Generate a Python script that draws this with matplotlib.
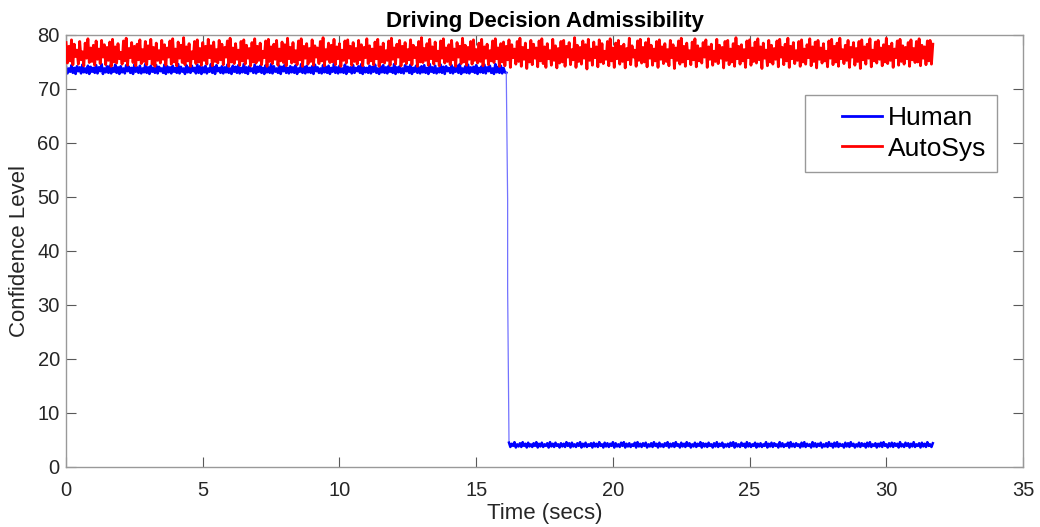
import numpy as np
import matplotlib
matplotlib.use("Agg")
import matplotlib.pyplot as plt
from matplotlib.legend_handler import HandlerLine2D

plt.rcParams['font.family'] = ['Liberation Sans', 'DejaVu Sans']

DT = 0.05  # sample spacing (s)

human_pre = [
    74.1, 72.9, 73.8, 73.2, 74.4, 73.0, 73.9, 72.8, 74.2, 73.3, 74.0, 72.9, 74.5, 73.1, 73.8, 73.0, 74.3, 72.8, 74.1, 73.2,
    73.9, 73.0, 74.4, 72.9, 74.0, 73.3, 74.6, 72.8, 73.8, 73.1, 74.2, 73.0, 74.3, 72.9, 73.9, 73.2, 74.5, 73.0, 74.0, 72.8,
    74.2, 73.1, 73.8, 72.9, 74.4, 73.3, 74.1, 73.0, 73.9, 72.8, 74.5, 73.2, 74.0, 73.0, 74.3, 72.9, 73.8, 73.1, 74.6, 73.0,
    74.0, 72.8, 74.3, 73.2, 73.9, 73.0, 74.4, 72.9, 74.1, 73.3, 73.8, 73.0, 74.5, 72.8, 74.2, 73.1, 74.0, 72.9, 74.3, 73.2,
    73.9, 73.0, 74.6, 72.9, 74.1, 73.2, 73.8, 72.8, 74.4, 73.1, 74.0, 73.0, 74.3, 73.3, 73.9, 72.9, 74.5, 73.0, 74.2, 72.8,
    74.0, 73.1, 74.3, 72.9, 73.8, 73.2, 74.6, 73.0, 74.1, 72.8, 74.4, 73.3, 73.9, 73.0, 74.2, 72.9, 74.0, 73.1, 74.5, 73.0,
    73.8, 72.8, 74.3, 73.2, 74.1, 73.0, 74.4, 72.9, 73.9, 73.1, 74.6, 73.0, 74.0, 72.8, 74.2, 73.3, 73.8, 73.0, 74.5, 72.9,
    74.1, 73.2, 74.3, 73.0, 73.9, 72.8, 74.4, 73.1, 74.0, 73.0, 74.6, 72.9, 74.2, 73.2, 73.8, 73.0, 74.3, 72.8, 74.1, 73.3,
    74.5, 73.0, 73.9, 72.9, 74.2, 73.1, 74.0, 73.0, 74.4, 72.8, 73.8, 73.2, 74.6, 73.0, 74.1, 72.9, 74.3, 73.1, 73.9, 73.0,
    74.2, 72.8, 74.5, 73.3, 74.0, 73.0, 73.8, 72.9, 74.4, 73.1, 74.1, 73.0, 74.3, 72.8, 73.9, 73.2, 74.6, 73.0, 74.0, 72.9,
    74.3, 73.1, 73.8, 73.0, 74.5, 72.8, 74.1, 73.2, 74.0, 72.9, 74.4, 73.0, 73.9, 73.3, 74.2, 73.0, 74.6, 72.8, 74.0, 73.1,
    73.9, 73.0, 74.3, 72.9, 74.1, 73.2, 74.5, 73.0, 73.8, 72.8, 74.2, 73.1, 74.4, 73.0, 74.0, 72.9, 74.3, 73.2, 73.9, 73.0,
    74.6, 72.8, 74.0, 73.1, 74.2, 73.0, 73.8, 72.9, 74.4, 73.3, 74.1, 73.0, 74.5, 72.8, 73.9, 73.2, 74.3, 73.0, 74.0, 72.9,
    74.2, 73.1, 74.4, 73.0, 73.9, 72.8, 74.6, 73.2, 74.0, 73.0, 74.3, 72.9, 73.8, 73.1, 74.5, 73.0, 74.1, 72.8, 74.2, 73.3,
    73.9, 73.0, 74.4, 72.9, 74.0, 73.2, 74.3, 73.0, 74.6, 72.8, 73.8, 73.1, 74.2, 73.0, 74.5, 72.9, 74.0, 73.2, 74.1, 73.0,
    74.4, 72.8, 73.9, 73.1, 74.2, 73.0, 74.5, 72.9, 74.0, 73.3, 74.3, 73.0, 73.8, 72.8, 74.6, 73.1, 74.1, 73.0, 74.3, 72.9,
    73.9, 73.1, 73.0,
]
human_drop_time = 16.15
human_drop = [49.5, 33.0]
human_post_start = 16.2
human_post = [
    4.5, 3.7, 4.3, 3.9, 4.6, 3.6, 4.2, 3.8, 4.4, 3.7, 4.6, 3.9, 4.3, 3.6, 4.5, 3.8, 4.2, 3.7, 4.4, 3.9,
    4.6, 3.6, 4.3, 3.8, 4.5, 3.7, 4.2, 3.9, 4.4, 3.6, 4.6, 3.8, 4.3, 3.7, 4.5, 3.9, 4.2, 3.6, 4.4, 3.8,
    4.3, 3.7, 4.6, 3.9, 4.4, 3.6, 4.5, 3.8, 4.2, 3.7, 4.4, 3.9, 4.6, 3.6, 4.3, 3.8, 4.5, 3.7, 4.2, 3.9,
    4.4, 3.6, 4.5, 3.8, 4.3, 3.7, 4.6, 3.9, 4.2, 3.6, 4.5, 3.8, 4.4, 3.7, 4.3, 3.9, 4.6, 3.6, 4.4, 3.8,
    4.2, 3.7, 4.5, 3.9, 4.6, 3.6, 4.3, 3.8, 4.4, 3.7, 4.2, 3.9, 4.5, 3.6, 4.6, 3.8, 4.3, 3.7, 4.4, 3.9,
    4.5, 3.6, 4.2, 3.8, 4.4, 3.7, 4.6, 3.9, 4.3, 3.6, 4.5, 3.8, 4.2, 3.7, 4.4, 3.9, 4.6, 3.6, 4.3, 3.8,
    4.4, 3.7, 4.6, 3.9, 4.2, 3.6, 4.5, 3.8, 4.3, 3.7, 4.6, 3.9, 4.4, 3.6, 4.2, 3.8, 4.5, 3.7, 4.3, 3.9,
    4.6, 3.6, 4.4, 3.8, 4.3, 3.7, 4.5, 3.9, 4.2, 3.6, 4.4, 3.8, 4.6, 3.7, 4.3, 3.9, 4.5, 3.6, 4.2, 3.8,
    4.3, 3.7, 4.5, 3.9, 4.6, 3.6, 4.4, 3.8, 4.2, 3.7, 4.5, 3.9, 4.3, 3.6, 4.6, 3.8, 4.4, 3.7, 4.2, 3.9,
    4.5, 3.6, 4.3, 3.8, 4.4, 3.7, 4.2, 3.9, 4.6, 3.6, 4.3, 3.8, 4.5, 3.7, 4.4, 3.9, 4.2, 3.6, 4.6, 3.8,
    4.4, 3.7, 4.2, 3.9, 4.5, 3.6, 4.6, 3.8, 4.3, 3.7, 4.4, 3.9, 4.2, 3.6, 4.5, 3.8, 4.6, 3.7, 4.3, 3.9,
    4.2, 3.6, 4.6, 3.8, 4.4, 3.7, 4.3, 3.9, 4.5, 3.6, 4.2, 3.8, 4.4, 3.7, 4.6, 3.9, 4.3, 3.6, 4.5, 3.8,
    4.6, 3.7, 4.3, 3.9, 4.2, 3.6, 4.5, 3.8, 4.4, 3.7, 4.6, 3.9, 4.3, 3.6, 4.2, 3.8, 4.5, 3.7, 4.4, 3.9,
    4.3, 3.6, 4.5, 3.8, 4.6, 3.7, 4.2, 3.9, 4.4, 3.6, 4.3, 3.8, 4.5, 3.7, 4.6, 3.9, 4.2, 3.6, 4.4, 3.8,
    4.5, 3.7, 4.4, 3.9, 4.3, 3.6, 4.6, 3.8, 4.2, 3.7, 4.5, 3.9, 4.4, 3.6, 4.3, 3.8, 4.6, 3.7, 4.2, 3.9,
    4.4, 3.6, 4.5, 3.8, 4.3, 3.7, 4.6, 3.9, 4.2, 3.7, 4.4,
]

autosys = [
    78.6, 74.8, 77.9, 75.2, 79.1, 74.5, 78.3, 76.0, 77.2, 74.6, 78.8, 75.4, 76.9, 74.3, 78.5, 75.7, 79.3, 74.9, 77.6, 75.1,
    78.1, 74.4, 78.9, 75.5, 77.4, 74.7, 79.0, 75.9, 78.2, 74.5, 77.7, 75.3, 78.7, 74.2, 79.2, 75.0, 77.8, 74.8, 78.4, 75.6,
    76.8, 74.6, 78.9, 75.2, 79.4, 74.4, 77.5, 75.8, 78.6, 74.9, 77.9, 74.3, 78.3, 75.4, 79.1, 74.7, 77.3, 75.1, 78.8, 74.5,
    78.0, 75.6, 79.2, 74.6, 77.7, 74.2, 78.5, 75.3, 77.1, 74.8, 79.0, 75.5, 78.2, 74.4, 77.6, 75.9, 78.9, 74.6, 79.3, 75.0,
    77.4, 74.3, 78.7, 75.7, 78.1, 74.9, 79.5, 74.5, 77.8, 75.2, 78.4, 74.2, 76.9, 75.6, 78.8, 74.7, 79.1, 75.0, 77.5, 74.4,
    78.6, 75.3, 77.9, 74.6, 79.2, 75.8, 78.0, 74.3, 78.7, 75.1, 77.3, 74.8, 79.0, 75.4, 78.3, 74.5, 77.7, 75.9, 78.9, 74.2,
    79.4, 75.0, 77.6, 74.7, 78.4, 75.5, 77.2, 74.4, 78.8, 75.2, 79.1, 74.6, 78.1, 75.7, 77.5, 74.3, 78.6, 75.0, 79.3, 74.8,
    77.9, 75.3, 78.5, 74.5, 77.0, 75.8, 78.9, 74.2, 79.2, 75.1, 77.8, 74.7, 78.3, 75.5, 79.0, 74.4, 77.4, 75.2, 78.7, 74.9,
    78.2, 74.3, 79.4, 75.6, 77.7, 74.8, 78.6, 75.0, 77.1, 74.5, 78.9, 75.4, 79.3, 74.2, 77.9, 75.7, 78.4, 74.6, 77.5, 75.1,
    79.1, 74.4, 78.0, 75.9, 77.6, 74.7, 78.8, 75.2, 79.5, 74.3, 77.3, 75.5, 78.5, 74.9, 78.1, 75.0, 79.2, 74.5, 77.8, 75.6,
    78.4, 74.2, 77.2, 75.3, 78.9, 74.8, 79.1, 75.7, 77.9, 74.4, 78.6, 75.1, 77.5, 74.6, 79.0, 75.4, 78.2, 74.3, 77.7, 75.8,
    79.3, 74.7, 78.0, 75.2, 77.4, 74.5, 78.7, 75.6, 79.2, 74.2, 77.8, 75.0, 78.5, 74.8, 77.1, 75.3, 78.9, 74.4, 79.4, 75.5,
    77.6, 74.6, 78.3, 75.9, 79.0, 74.3, 77.9, 75.1, 78.6, 74.7, 77.3, 75.4, 79.1, 74.5, 78.1, 75.8, 77.7, 74.2, 78.8, 75.0,
    79.5, 74.9, 77.5, 75.3, 78.4, 74.4, 79.2, 75.6, 77.8, 74.6, 78.7, 75.2, 77.0, 74.3, 78.9, 75.7, 79.3, 74.8, 77.6, 75.1,
    78.2, 74.5, 79.0, 75.4, 77.4, 74.2, 78.6, 75.9, 77.9, 74.7, 79.4, 75.0, 78.1, 74.4, 77.7, 75.5, 78.8, 74.6, 79.1, 75.3,
    77.3, 74.8, 78.5, 75.1, 79.2, 74.3, 77.8, 75.7, 78.3, 74.5, 77.1, 75.2, 78.9, 74.9, 79.3, 75.6, 77.6, 74.2, 78.4, 75.0,
    78.7, 74.3, 77.9, 75.4, 79.1, 74.0, 78.2, 75.8, 77.4, 74.6, 78.8, 75.1, 79.4, 74.2, 77.7, 75.5, 78.5, 73.8, 77.2, 75.0,
    79.0, 74.5, 78.3, 75.7, 77.6, 74.1, 78.9, 75.2, 79.3, 74.7, 77.8, 74.0, 78.4, 75.6, 77.1, 74.4, 79.2, 75.3, 78.0, 73.9,
    77.5, 74.8, 78.8, 75.0, 79.0, 74.2, 77.9, 75.9, 78.6, 74.5, 77.3, 75.4, 79.5, 74.0, 78.1, 75.1, 77.7, 74.6, 78.9, 75.7,
    78.2, 73.7, 79.2, 75.3, 77.4, 74.4, 78.7, 75.8, 77.8, 74.1, 79.1, 75.0, 78.4, 74.7, 77.0, 75.5, 78.8, 74.3, 79.3, 75.2,
    77.6, 74.0, 78.5, 75.6, 79.0, 74.6, 77.9, 75.1, 78.3, 73.9, 77.5, 75.4, 79.4, 74.5, 78.0, 75.9, 77.2, 74.2, 78.9, 75.3,
    79.2, 74.8, 77.7, 75.0, 78.6, 74.1, 79.3, 75.7, 78.1, 74.4, 77.4, 75.2, 78.8, 74.0, 79.1, 75.5, 77.8, 74.7, 78.4, 75.1,
    77.3, 74.3, 79.0, 75.8, 78.2, 73.8, 77.6, 75.3, 78.9, 74.6, 79.4, 75.0, 77.9, 74.2, 78.5, 75.6, 77.1, 74.5, 78.7, 75.4,
    79.3, 74.1, 78.0, 75.2, 77.5, 74.8, 78.6, 75.9, 79.1, 74.0, 77.8, 75.5, 78.3, 74.4, 77.0, 75.1, 79.2, 74.7, 78.1, 75.7,
    77.7, 73.9, 78.8, 75.3, 79.0, 74.5, 77.4, 75.0, 78.4, 74.2, 79.5, 75.6, 77.9, 74.6, 78.2, 75.2, 77.3, 74.0, 78.9, 75.8,
    79.1, 74.4, 77.6, 75.1, 78.7, 74.8, 79.3, 75.4, 77.8, 73.8, 78.5, 75.7, 77.2, 74.3, 79.0, 75.0, 78.1, 74.6, 77.5, 75.5,
    78.9, 74.1, 79.2, 75.9, 77.7, 74.5, 78.3, 75.2, 79.4, 74.0, 77.9, 75.6, 78.6, 74.7, 77.1, 75.3, 78.8, 74.2, 79.1, 75.0,
    77.4, 74.6, 78.2, 75.8, 79.3, 74.3, 77.8, 75.1, 78.7, 73.9, 79.0, 75.5, 77.6, 74.8, 78.4, 75.2, 77.0, 74.1, 78.9, 75.7,
    79.2, 74.5, 77.9, 75.0, 78.5, 74.2, 79.4, 75.6, 77.3, 74.7, 78.1, 75.3, 79.0, 74.0, 77.7, 75.9, 78.6, 74.4, 77.5, 75.1,
    78.8, 73.8, 79.1, 75.4, 77.8, 74.6, 78.3, 75.7, 79.3, 74.1, 77.2, 75.2, 78.7, 74.8, 79.0, 75.5, 77.6, 74.3, 78.2, 75.0,
    79.4, 74.7, 77.9, 75.3, 78.5, 74.0, 77.4, 75.8, 78.9, 74.4, 79.2, 75.1, 78.0, 74.6, 77.7, 75.6, 78.6, 74.2, 79.1, 75.4,
    77.5, 74.9, 78.8, 75.0, 79.3, 74.3, 78.1, 75.7, 77.8, 74.5, 78.9, 75.2, 79.0, 74.6, 78.3,
]

title = "Driving Decision Admissibility"
xlabel = "Time (secs)"
ylabel = "Confidence Level"
series_names = ["Human", "AutoSys"]
xticks = [0, 5, 10, 15, 20, 25, 30, 35]
yticks = [0, 10, 20, 30, 40, 50, 60, 70, 80]

# time axes
t_pre = np.arange(len(human_pre)) * DT
t_drop = np.full(len(human_drop), human_drop_time)
t_post = human_post_start + np.arange(len(human_post)) * DT
t_auto = np.arange(len(autosys)) * DT

# the switch segment: last pre sample -> drop samples -> first post sample
t_conn = np.concatenate([t_pre[-1:], t_drop, t_post[:1]])
y_conn = np.concatenate([human_pre[-1:], human_drop, human_post[:1]])

BLUE = (0, 0, 1)
RED = (1, 0, 0)

fig = plt.figure(figsize=(10.4, 5.27), dpi=100)
ax = fig.add_axes([0.0635, 0.1139, 0.9202, 0.8197])

ax.plot(t_pre, human_pre, color=BLUE, lw=1.9, zorder=2, label=series_names[0])
ax.plot(t_conn, y_conn, color=(0.45, 0.45, 1.0), lw=0.9, zorder=2)
ax.plot(t_post, human_post, color=BLUE, lw=1.8, zorder=2)
ax.plot(t_auto, autosys, color=RED, lw=2.0, zorder=3, label=series_names[1])

ax.set_xlim(0, 35)
ax.set_ylim(0, 80)
ax.set_xticks(xticks)
ax.set_yticks(yticks)

edge = (0.15, 0.15, 0.15)
for sp in ax.spines.values():
    sp.set_color((0.6, 0.6, 0.6))
    sp.set_linewidth(1.0)
ax.tick_params(direction='in', length=7, width=0.8, color=(0.35, 0.35, 0.35),
               top=True, right=True, labelsize=14.5, labelcolor=edge)
ax.tick_params(axis='x', pad=10)
ax.tick_params(axis='y', pad=4.5)

ax.set_title(title, fontsize=16, fontweight='bold', pad=6)
ax.set_xlabel(xlabel, fontsize=16, color=edge, labelpad=2)
ax.set_ylabel(ylabel, fontsize=16, color=edge, labelpad=5)

leg = ax.legend(loc='upper right', bbox_to_anchor=(0.973, 0.861), borderaxespad=0,
                fontsize=19, fancybox=False, framealpha=1, edgecolor=(0.6, 0.6, 0.6),
                handlelength=2.5, handletextpad=0.2, borderpad=0.42, labelspacing=0.25,
                handler_map={plt.Line2D: HandlerLine2D(xpad=0.95)})
leg.get_frame().set_linewidth(1.0)
for line in leg.get_lines():
    line.set_linewidth(2.0)

fig.savefig("out.png", dpi=100)
